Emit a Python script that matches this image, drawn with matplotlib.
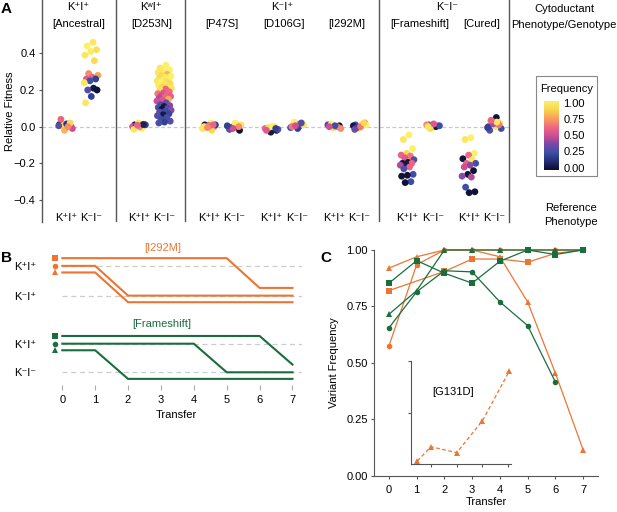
import numpy as np
import matplotlib
matplotlib.use('Agg')
import matplotlib.pyplot as plt
from matplotlib.colors import LinearSegmentedColormap
from matplotlib.patches import Rectangle

plt.rcParams['font.family'] = ['Liberation Sans', 'DejaVu Sans']
plt.rcParams['font.size'] = 8

W, H = 617, 512
ORANGE = '#EC7533'
GREEN = '#1A6E3E'
GREY = '#555555'

# ---- Panel A data: relative fitness (y) and variant frequency (colour) ----
groups = ['[Ancestral]', '[D253N]', '[P47S]', '[D106G]', '[I292M]', '[Frameshift]', '[Cured]']
ref_labels = ['K⁺I⁺', 'K⁻I⁻']

anc_pos_fit = [0.01, 0.005, 0.0, -0.005, 0.012, 0.0, 0.008, -0.01, 0.015, 0.04, 0.02, -0.02, 0.005, 0.0]
anc_pos_frq = [0.05, 0.95, 0.3, 0.6, 0.02, 1.0, 0.9, 0.5, 0.15, 0.6, 0.9, 0.8, 0.3, 0.7]
anc_neg_fit = [0.46, 0.44, 0.42, 0.41, 0.39, 0.36, 0.29, 0.28, 0.27, 0.26, 0.26, 0.25, 0.24, 0.21, 0.20, 0.20, 0.165, 0.13]
anc_neg_frq = [0.95, 1.0, 0.92, 0.98, 0.95, 0.9, 0.7, 0.75, 0.6, 0.55, 0.2, 0.25, 0.95, 0.05, 0.3, 0.02, 0.2, 0.95]

d253_pos_fit = [0.0, 0.01, 0.015, 0.02, 0.0, -0.01, 0.005, 0.01, 0.0, -0.015, 0.012, 0.008]
d253_pos_frq = [0.95, 0.05, 0.9, 0.95, 0.55, 1.0, 0.3, 0.2, 0.7, 0.95, 0.08, 0.6]
d253_neg_fit = [0.335, 0.32, 0.31, 0.30, 0.295, 0.285, 0.28, 0.275, 0.27, 0.265, 0.26, 0.255, 0.25,
                0.245, 0.24, 0.235, 0.23, 0.225, 0.22, 0.215, 0.21, 0.205, 0.20, 0.19, 0.185, 0.18,
                0.175, 0.17, 0.165, 0.16, 0.155, 0.15, 0.145, 0.14, 0.13, 0.12, 0.115, 0.11, 0.105,
                0.10, 0.095, 0.09, 0.085, 0.08, 0.07, 0.065, 0.06, 0.05, 0.04, 0.03, 0.025, 0.02]
d253_neg_frq = [1.0, 0.95, 1.0, 0.98, 0.95, 0.8, 0.9, 1.0, 0.95, 0.9, 1.0, 0.97, 0.95,
                0.92, 1.0, 0.9, 0.95, 0.98, 0.93, 0.88, 0.95, 0.6, 0.92, 0.62, 0.55, 0.65,
                0.6, 0.5, 0.58, 0.62, 0.45, 0.78, 0.55, 0.5, 0.35, 0.3, 0.4, 0.05, 0.28,
                0.3, 0.02, 0.4, 0.25, 0.3, 0.22, 0.05, 0.3, 0.28, 0.25, 0.3, 0.2, 0.28]

p47s_pos_fit = [0.02, 0.01, 0.0, 0.005, -0.01, -0.02, 0.0, 0.01, 0.005, 0.0, 0.01, -0.005]
p47s_pos_frq = [1.0, 0.05, 0.6, 0.3, 0.95, 0.9, 0.55, 0.2, 0.65, 0.95, 0.6, 0.7]
p47s_neg_fit = [0.0, -0.01, -0.02, 0.005, 0.0, 0.01, -0.005, 0.01, 0.02, -0.015, 0.0, -0.01, 0.005]
p47s_neg_frq = [0.3, 0.05, 0.02, 0.95, 0.6, 0.9, 0.25, 0.95, 1.0, 0.35, 0.7, 0.5, 0.2]

d106g_pos_fit = [-0.01, -0.015, -0.02, -0.03, -0.01, 0.0, -0.005, -0.015, 0.0, -0.02, -0.01]
d106g_pos_frq = [0.25, 0.3, 0.02, 0.05, 0.6, 0.95, 0.9, 0.3, 1.0, 0.55, 0.2]
d106g_neg_fit = [0.0, 0.01, 0.02, 0.015, -0.005, 0.005, 0.025, 0.01, -0.01, 0.0, 0.02, 0.005]
d106g_neg_frq = [0.3, 0.95, 0.9, 0.6, 0.25, 0.35, 1.0, 0.95, 0.2, 0.65, 0.3, 0.5]

i292m_pos_fit = [0.0, 0.01, 0.005, -0.005, 0.01, 0.0, 0.015, -0.01, 0.005, 0.0]
i292m_pos_frq = [0.6, 0.95, 0.03, 0.9, 0.3, 0.65, 1.0, 0.7, 0.25, 0.5]
i292m_neg_fit = [0.0, 0.01, 0.02, -0.01, 0.005, 0.015, -0.005, 0.01, 0.0, -0.015, 0.02]
i292m_neg_frq = [0.95, 0.3, 0.6, 0.95, 0.05, 0.9, 0.2, 1.0, 0.65, 0.35, 0.9]

fs_pos_fit = [-0.045, -0.07, -0.12, -0.145, -0.155, -0.16, -0.17, -0.18, -0.195, -0.2,
              -0.2, -0.205, -0.21, -0.22, -0.23, -0.26, -0.265, -0.27, -0.3, -0.305]
fs_pos_frq = [1.0, 0.95, 1.0, 0.9, 0.6, 0.65, 0.55, 0.3, 0.02, 0.03,
              0.6, 0.05, 0.45, 0.6, 0.3, 0.25, 0.02, 0.02, 0.25, 0.03]
fs_neg_fit = [0.0, 0.01, 0.005, -0.005, 0.01, 0.0, -0.01, 0.005, 0.015, 0.0]
fs_neg_frq = [0.95, 0.3, 0.6, 1.0, 0.7, 0.05, 0.9, 0.25, 0.55, 0.95]

cur_pos_fit = [-0.06, -0.07, -0.145, -0.155, -0.175, -0.18, -0.2, -0.2, -0.21, -0.22,
               -0.24, -0.26, -0.27, -0.275, -0.33, -0.355, -0.36]
cur_pos_frq = [1.0, 0.95, 1.0, 0.62, 0.03, 0.95, 0.6, 0.28, 0.4, 0.5,
               0.02, 0.03, 0.4, 0.45, 0.25, 0.02, 0.03]
cur_neg_fit = [0.05, 0.03, 0.02, 0.01, 0.0, 0.02, 0.03, -0.01, 0.0, -0.02, 0.01, 0.015, -0.005, 0.025, 0.035]
cur_neg_frq = [0.02, 0.95, 1.0, 0.9, 0.3, 0.55, 0.6, 0.25, 0.95, 0.3, 0.65, 0.45, 0.2, 0.95, 0.6]

panel_a = [
    (anc_pos_fit, anc_pos_frq, anc_neg_fit, anc_neg_frq),
    (d253_pos_fit, d253_pos_frq, d253_neg_fit, d253_neg_frq),
    (p47s_pos_fit, p47s_pos_frq, p47s_neg_fit, p47s_neg_frq),
    (d106g_pos_fit, d106g_pos_frq, d106g_neg_fit, d106g_neg_frq),
    (i292m_pos_fit, i292m_pos_frq, i292m_neg_fit, i292m_neg_frq),
    (fs_pos_fit, fs_pos_frq, fs_neg_fit, fs_neg_frq),
    (cur_pos_fit, cur_pos_frq, cur_neg_fit, cur_neg_frq),
]

# ---- Panel B data: phenotype trajectories ----
transfers = [0, 1, 2, 3, 4, 5, 6, 7]
i292m_switch = {'s': 5, 'o': 1, '^': 1}        # last transfer in K+I+ state
frameshift_switch = {'s': 6, 'o': 4, '^': 1}

# ---- Panel C data: variant frequency ----
orange_freq = {
    's': [0.82, None, 0.905, 0.96, 0.96, 0.946, 0.985, 1.0],
    'o': [0.575, 0.935, 1.0, 1.0, 1.0, 1.0, 1.0, 1.0],
    '^': [0.92, 0.97, 1.0, 1.0, 0.97, 0.77, 0.455, 0.115],
}
green_freq = {
    's': [0.853, 0.953, 0.897, 0.853, 0.95, 1.0, 0.98, 1.0],
    'o': [0.655, 0.815, 0.908, 0.903, 0.77, 0.665, 0.415, None],
    '^': [0.715, 0.82, 1.0, 1.0, 1.0, 1.0, 1.0, 1.0],
}
g131d_x = [0.47, 1.0, 2.0, 3.0, 4.05]
g131d_freq = [0.016, 0.085, 0.056, 0.209, 0.45]


def box(l, t, r, b):
    return [l / W, 1 - b / H, (r - l) / W, (b - t) / H]


cmap = LinearSegmentedColormap.from_list('freq', [
    (0.0, '#0c0c2a'), (0.13, '#262f78'), (0.25, '#3d4ea6'), (0.38, '#7a4aa6'),
    (0.5, '#d04e94'), (0.62, '#f06882'), (0.75, '#f8a05e'), (0.88, '#f9d64e'),
    (1.0, '#fbf06a')])

fig = plt.figure(figsize=(W / 100, H / 100), dpi=100)

# =================== Panel A ===================
axa = fig.add_axes(box(41.7, 0, 509.3, 222))
centers = [1.47, 4.39, 7.19, 9.69, 12.2, 15.13, 17.6]
seps = [2.96, 5.73, 13.49]
half = 0.51
golden = 0.6180339887
for c, (pf, pq, nf, nq) in zip(centers, panel_a):
    for xc, fit, frq in ((c - half, pf, pq), (c + half, nf, nq)):
        n = len(fit)
        jit = (((np.arange(n) + 1) * golden) % 1 - 0.5) * 0.6
        axa.scatter(xc + jit, fit, c=frq, cmap=cmap, vmin=0, vmax=1, s=24,
                    linewidths=0, zorder=3)
    for xc, lab in ((c - half, ref_labels[0]), (c + half, ref_labels[1])):
        axa.text(xc, -0.498, lab, ha='center', va='center', fontsize=8)

for s in seps:
    axa.axvline(s, color=GREY, lw=1)
axa.axhline(0, color='#c8c8c8', lw=0.9, ls=(0, (3, 2)), zorder=1)
axa.set_xlim(0, 18.7)
axa.set_ylim(-0.52, 0.691)
axa.set_xticks([])
axa.set_yticks([-0.4, -0.2, 0.0, 0.2, 0.4])
axa.set_yticklabels(['−0.4', '−0.2', '0.0', '0.2', '0.4'])
axa.tick_params(axis='y', length=2.5, color=GREY, pad=2, labelsize=8)
for sp in ('top', 'bottom'):
    axa.spines[sp].set_visible(False)
for sp in ('left', 'right'):
    axa.spines[sp].set_color(GREY)
    axa.spines[sp].set_linewidth(1)
axa.set_ylabel('Relative Fitness', fontsize=8)
axa.yaxis.set_label_coords(-0.058, 0.5)

# header texts
top_y, sub_y = 0.651, 0.559
axa.text(1.47, top_y, 'K⁺I⁺', ha='center', va='center')
axa.text(4.35, top_y, 'KʷI⁺', ha='center', va='center')
axa.text(9.61, top_y, 'K⁻I⁺', ha='center', va='center')
axa.text(16.2, top_y, 'K⁻I⁻', ha='center', va='center')
for c, g in zip(centers, groups):
    axa.text(c, sub_y, g, ha='center', va='center', fontsize=8)

fig.text(564 / W, 1 - 9 / H, 'Cytoductant', ha='center', va='center', fontsize=8)
fig.text(564 / W, 1 - 25 / H, 'Phenotype/Genotype', ha='center', va='center', fontsize=8)
fig.text(571 / W, 1 - 208 / H, 'Reference', ha='center', va='center', fontsize=8)
fig.text(571 / W, 1 - 222 / H, 'Phenotype', ha='center', va='center', fontsize=8)

# colour legend
fig.patches.append(Rectangle((535.7 / W, 1 - 176 / H), 61 / W, 100.3 / H,
                             transform=fig.transFigure, fill=False,
                             edgecolor='#888888', lw=0.8))
fig.text(567 / W, 1 - 88.5 / H, 'Frequency', ha='center', va='center', fontsize=8)
cax = fig.add_axes(box(544.3, 101, 559, 170))
grad = np.linspace(0, 1, 256).reshape(-1, 1)
cax.imshow(grad, cmap=cmap, aspect='auto', origin='lower', extent=(0, 1, -0.035, 1.026))
cax.set_xlim(0, 1)
cax.set_ylim(-0.035, 1.026)
cax.set_xticks([])
cax.yaxis.tick_right()
cax.set_yticks([0, 0.25, 0.5, 0.75, 1.0])
cax.set_yticklabels(['0.00', '0.25', '0.50', '0.75', '1.00'])
cax.tick_params(axis='y', length=0, pad=3, labelsize=8)
for sp in cax.spines.values():
    sp.set_visible(False)

# =================== Panel B ===================
axb = fig.add_axes(box(50, 245, 302, 385))
OR_HI, OR_LO, GR_HI, GR_LO = 3.72, 2.68, 1.0, 0.0
offsets = {'s': 0.27, 'o': 0.0, '^': -0.23}
for hi, lo, col in ((OR_HI, OR_LO, ORANGE), (GR_HI, GR_LO, GREEN)):
    for lvl in (hi, lo):
        axb.plot([0, 7.3], [lvl, lvl], color='#cccccc', lw=0.9, ls=(0, (4, 3)), zorder=1)

for switch, hi, lo, col in ((i292m_switch, OR_HI, OR_LO, ORANGE),
                            (frameshift_switch, GR_HI, GR_LO, GREEN)):
    for m, t in switch.items():
        off = offsets[m]
        xs = [0, t, min(t + 1, 7), 7]
        ys = [hi + off, hi + off, lo + off, lo + off]
        axb.plot(xs, ys, color=col, lw=1.5, solid_joinstyle='miter', zorder=2)
        axb.plot(-0.22, hi + off, marker=m, color=col, ms=4, mew=0, clip_on=False)

axb.set_xlim(-0.374, 7.29)
axb.set_ylim(-0.444, 4.45)
axb.set_xticks(transfers)
axb.tick_params(axis='x', length=3.5, color='#aaaaaa', pad=4, labelsize=8)
axb.set_yticks([OR_HI, OR_LO, GR_HI, GR_LO])
axb.set_yticklabels(['K⁺I⁺', 'K⁻I⁺', 'K⁺I⁺', 'K⁻I⁻'])
axb.tick_params(axis='y', length=0, pad=10, labelsize=8)
for sp in axb.spines.values():
    sp.set_visible(False)
axb.set_xlabel('Transfer', fontsize=8, labelpad=3)
axb.text(3.06, 4.34, '[I292M]', color=ORANGE, ha='center', va='center', fontsize=8)
axb.text(3.03, 1.69, '[Frameshift]', color=GREEN, ha='center', va='center', fontsize=8)

# =================== Panel C ===================
axc = fig.add_axes(box(374, 250, 598, 475.5))
for freqs, col in ((orange_freq, ORANGE), (green_freq, GREEN)):
    for m, vals in freqs.items():
        xs = [t for t, v in zip(transfers, vals) if v is not None]
        ys = [v for v in vals if v is not None]
        axc.plot(xs, ys, color=col, lw=0.9, marker=m, ms=4, mew=0, clip_on=False)
axc.set_xlim(-0.54, 7.54)
axc.set_ylim(0, 1)
axc.set_xticks(transfers)
axc.set_yticks([0, 0.25, 0.5, 0.75, 1.0])
axc.set_yticklabels(['0.00', '0.25', '0.50', '0.75', '1.00'])
axc.tick_params(length=2.5, color=GREY, pad=2, labelsize=8)
axc.tick_params(axis='x', pad=4)
for sp in ('top', 'right'):
    axc.spines[sp].set_visible(False)
for sp in ('left', 'bottom'):
    axc.spines[sp].set_color(GREY)
axc.set_ylabel('Variant Frequency', fontsize=8, labelpad=5)
axc.set_xlabel('Transfer', fontsize=8, labelpad=1.5)

# inset: [G131D]
axi = fig.add_axes(box(411, 360.7, 510.7, 464.3))
axi.patch.set_visible(False)
axi.plot(g131d_x, g131d_freq, color=ORANGE, lw=0.9, ls=(0, (3, 2)), marker='^',
         ms=4, mew=0, clip_on=False)
axi.set_xlim(0.221, 4.105)
axi.set_ylim(0, 0.5)
axi.set_xticks([1, 2, 3, 4])
axi.set_yticks([0.25, 0.5])
axi.set_xticklabels([])
axi.set_yticklabels([])
axi.tick_params(length=2.5, color=GREY)
for sp in ('top', 'right'):
    axi.spines[sp].set_visible(False)
for sp in ('left', 'bottom'):
    axi.spines[sp].set_color(GREY)
fig.text(453.3 / W, 1 - 391.7 / H, '[G131D]', ha='center', va='center', fontsize=8)

# panel letters
fig.text(1 / W, 1 - 9 / H, 'A', fontsize=11, fontweight='bold', ha='left', va='center')
fig.text(1 / W, 1 - 258 / H, 'B', fontsize=11, fontweight='bold', ha='left', va='center')
fig.text(320 / W, 1 - 258 / H, 'C', fontsize=11, fontweight='bold', ha='left', va='center')

fig.savefig('out.png', dpi=100)
